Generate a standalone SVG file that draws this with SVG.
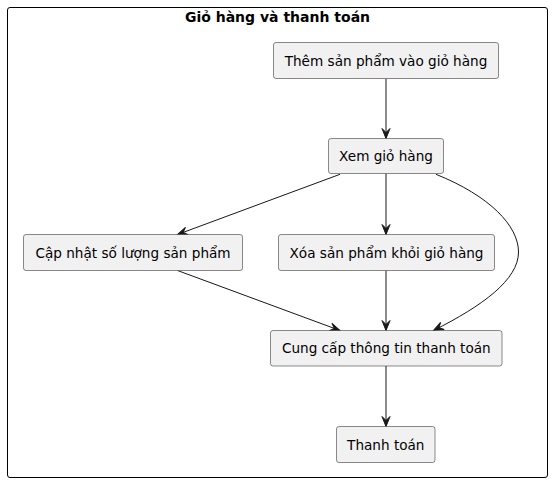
<svg xmlns="http://www.w3.org/2000/svg" width="552" height="483" viewBox="0 0 552 483">
<style>
.n rect{fill:#F1F1F1;stroke:#181818;stroke-width:0.5}
.n text{font-family:"DejaVu Sans",sans-serif;font-size:13.6px;fill:#000;text-anchor:middle}
.e path{fill:none;stroke:#181818;stroke-width:1;marker-end:url(#a)}
.t{font-family:"DejaVu Sans",sans-serif;font-size:14px;font-weight:bold;fill:#000;text-anchor:middle}
</style>
<defs>
<marker id="a" markerUnits="userSpaceOnUse" viewBox="-11 -5 12 10" markerWidth="12" markerHeight="10" refX="0" refY="0" orient="auto">
<path d="M0,0 L-10,-4 L-6,0 L-10,4 Z" fill="#181818" stroke="#181818" stroke-width="1" stroke-linejoin="miter"/>
</marker>
</defs>
<rect width="552" height="483" fill="#FFFFFF"/>
<g id="frame">
<rect x="7.5" y="7.5" width="540" height="470" rx="2.5" fill="none" stroke="#000" stroke-width="1"/>
<text class="t" x="277.5" y="22">Giỏ hàng và thanh toán</text>
</g>
<g class="e" id="connectors">
<path d="M386,78.5 L386,138.5"/>
<path d="M340,174.3 L177.5,234.5"/>
<path d="M386,173.5 L386,234.5"/>
<path d="M436,174.3 C490,196 518.5,226 518.5,252 C518.5,280 482,306 433.5,330.5"/>
<path d="M177.5,270.5 L340,330.5"/>
<path d="M386,270.5 L386,330.5"/>
<path d="M386,366 L386,426.5"/>
</g>
<g class="n" id="n1"><rect x="273.5" y="42.5" width="225" height="36" rx="2.5"/><text x="386" y="65.5">Thêm sản phẩm vào giỏ hàng</text></g>
<g class="n" id="n2"><rect x="328.5" y="138.5" width="115" height="35" rx="2.5"/><text x="386" y="161">Xem giỏ hàng</text></g>
<g class="n" id="n3"><rect x="23.5" y="234.5" width="219" height="36" rx="2.5"/><text x="133" y="257.5">Cập nhật số lượng sản phẩm</text></g>
<g class="n" id="n4"><rect x="278.5" y="234.5" width="216" height="36" rx="2.5"/><text x="386.5" y="257.5">Xóa sản phẩm khỏi giỏ hàng</text></g>
<g class="n" id="n5"><rect x="270.5" y="330.5" width="231.5" height="35.5" rx="2.5"/><text x="386.3" y="353.3">Cung cấp thông tin thanh toán</text></g>
<g class="n" id="n6"><rect x="336.5" y="426.5" width="98.5" height="36" rx="2.5"/><text x="385.8" y="449.5">Thanh toán</text></g>
</svg>
